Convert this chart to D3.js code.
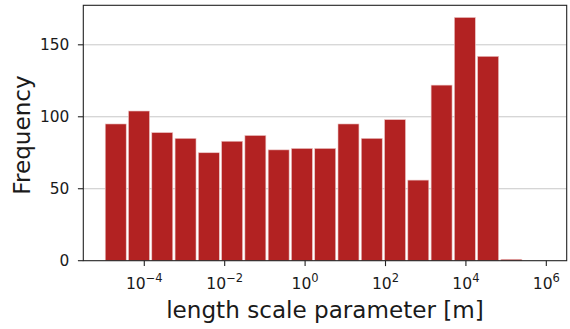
<!DOCTYPE html>
<html>
<head>
<meta charset="utf-8">
<script src="https://cdn.jsdelivr.net/npm/d3@7"></script>
<style>
  body { margin: 0; background: #fff; }
  text { font-family: "DejaVu Sans", sans-serif; fill: #1a1a1a; }
</style>
</head>
<body>
<svg width="570" height="329"></svg>
<script>
const svg = d3.select('svg');

// histogram: 19 log-spaced bins from 1e-5 to 1e6
const binLowExp = -5;
const binHighExp = 6;
const counts = [95, 104, 89, 85, 75, 83, 87, 77, 78, 78, 95, 85, 98, 56, 122, 169, 142, 1, 0];
const xTickExps = [-4, -2, 0, 2, 4, 6];
const yTicks = [0, 50, 100, 150];

const plotLeft = 83.3, plotRight = 566.7, plotTop = 5.3, plotBottom = 260.7;

const x = d3.scaleLog()
  .domain([Math.pow(10, -5.517), Math.pow(10, 6.507)])
  .range([plotLeft, plotRight]);

const y = d3.scaleLinear()
  .domain([0, 177.45])
  .range([plotBottom, plotTop]);

const binStep = (binHighExp - binLowExp) / counts.length;
const bins = counts.map((c, i) => {
  const lo = binLowExp + i * binStep;
  return { lo: lo + 0.05 * binStep, hi: lo + 0.95 * binStep, count: c };
});

// grid
svg.append('g')
  .selectAll('line')
  .data(yTicks.slice(1))
  .join('line')
  .attr('x1', plotLeft).attr('x2', plotRight)
  .attr('y1', d => y(d)).attr('y2', d => y(d))
  .attr('stroke', '#c8c8c8')
  .attr('stroke-width', 1);

// bars
svg.append('g')
  .selectAll('rect')
  .data(bins.filter(b => b.count > 0))
  .join('rect')
  .attr('x', d => x(Math.pow(10, d.lo)))
  .attr('width', d => x(Math.pow(10, d.hi)) - x(Math.pow(10, d.lo)))
  .attr('y', d => y(d.count))
  .attr('height', d => y(0) - y(d.count))
  .attr('fill', '#b22222')
  .attr('stroke', '#ecc4c4')
  .attr('stroke-width', 0.6);

// frame
svg.append('rect')
  .attr('x', plotLeft).attr('y', plotTop)
  .attr('width', plotRight - plotLeft).attr('height', plotBottom - plotTop)
  .attr('fill', 'none')
  .attr('stroke', '#222')
  .attr('stroke-width', 1.1);

// y axis
const yAxis = svg.append('g');
yAxis.selectAll('line')
  .data(yTicks)
  .join('line')
  .attr('x1', plotLeft - 5.4).attr('x2', plotLeft)
  .attr('y1', d => y(d)).attr('y2', d => y(d))
  .attr('stroke', '#222').attr('stroke-width', 1.1);
yAxis.selectAll('text')
  .data(yTicks)
  .join('text')
  .attr('x', plotLeft - 14)
  .attr('y', d => y(d))
  .attr('dy', '0.36em')
  .attr('text-anchor', 'end')
  .style('font-size', '15.4px')
  .text(d => d);

// x axis
const xAxis = svg.append('g');
xAxis.selectAll('line')
  .data(xTickExps)
  .join('line')
  .attr('x1', d => x(Math.pow(10, d))).attr('x2', d => x(Math.pow(10, d)))
  .attr('y1', plotBottom).attr('y2', plotBottom + 5.4)
  .attr('stroke', '#222').attr('stroke-width', 1.1);
const xl = xAxis.selectAll('text')
  .data(xTickExps)
  .join('text')
  .attr('x', d => x(Math.pow(10, d)))
  .attr('y', 288.5)
  .attr('text-anchor', 'middle')
  .style('font-size', '15.6px');
xl.append('tspan').text('10');
xl.append('tspan')
  .attr('dy', -7)
  .style('font-size', '11.5px')
  .text(d => d < 0 ? '\u2212' + (-d) : d);

// labels
svg.append('text')
  .attr('x', (plotLeft + plotRight) / 2)
  .attr('y', 318.3)
  .attr('text-anchor', 'middle')
  .style('font-size', '23.1px')
  .text('length scale parameter [m]');

svg.append('text')
  .attr('transform', `translate(29.5,${(plotTop + plotBottom) / 2 + 2}) rotate(-90)`)
  .attr('text-anchor', 'middle')
  .style('font-size', '23.1px')
  .text('Frequency');
</script>
</body>
</html>
